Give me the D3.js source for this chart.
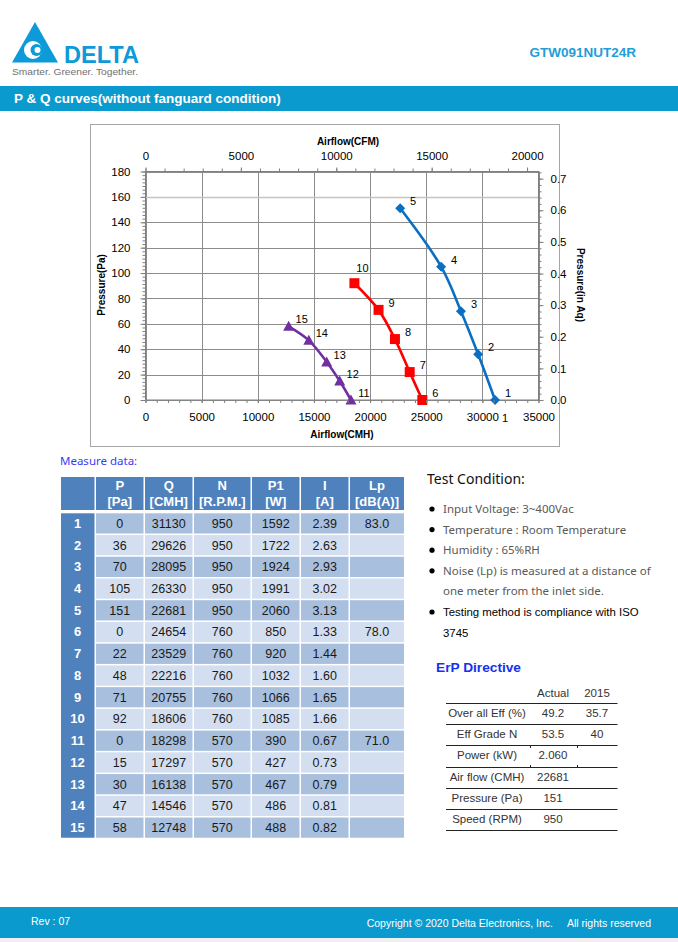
<!DOCTYPE html>
<html><head><meta charset="utf-8">
<script src="https://cdn.jsdelivr.net/npm/d3@7"></script>
<style>
html,body{margin:0;padding:0;background:#fff;}
svg{display:block;}
</style></head>
<body>
<script>
// ---------------- DATA ----------------
const pointNo = [1,2,3,4,5,6,7,8,9,10,11,12,13,14,15];
const pressurePa = [0,36,70,105,151,0,22,48,71,92,0,15,30,47,58];
const airflowCMH = [31130,29626,28095,26330,22681,24654,23529,22216,20755,18606,18298,17297,16138,14546,12748];
const speedRPM = [950,950,950,950,950,760,760,760,760,760,570,570,570,570,570];
const powerW = [1592,1722,1924,1991,2060,850,920,1032,1066,1085,390,427,467,486,488];
const currentA = ["2.39","2.63","2.93","3.02","3.13","1.33","1.44","1.60","1.65","1.66","0.67","0.73","0.79","0.81","0.82"];
const noiseLp = ["83.0","","","","","78.0","","","","","71.0","","","",""];
const seriesSpeeds = [950,760,570];
const xTicksCMH = [0,5000,10000,15000,20000,25000,30000,35000];
const xTicksCFM = [0,5000,10000,15000,20000];
const yTicksPa = [0,20,40,60,80,100,120,140,160,180];
const yTicksInAq = [0,0.1,0.2,0.3,0.4,0.5,0.6,0.7];
const tableHeads = [["P","[Pa]"],["Q","[CMH]"],["N","[R.P.M.]"],["P1","[W]"],["I","[A]"],["Lp","[dB(A)]"]];
const testConditions = [
  ["Input Voltage: 3~400Vac"],
  ["Temperature : Room Temperature"],
  ["Humidity : 65%RH"],
  ["Noise (Lp) is measured at a distance of","one meter from the inlet side."],
  ["Testing method is compliance with ISO","3745"]
];
const erpHead = ["Actual","2015"];
const erpLabels = ["Over all Eff (%)","Eff Grade N","Power (kW)","Air flow (CMH)","Pressure (Pa)","Speed (RPM)"];
const erpActual = ["49.2","53.5","2.060","22681","151","950"];
const erp2015 = ["35.7","40","","","",""];

// ---------------- SETUP ----------------
const W = 678, H = 942;
const BLUE = "#0b9ace";
const svg = d3.select("body").append("svg").attr("width", W).attr("height", H);
const AR = "'Liberation Sans', Arial, sans-serif";
const NS = "'Noto Sans', 'Open Sans', sans-serif";

// ---------------- HEADER ----------------
const logo = svg.append("g");
logo.append("path").attr("d","M35,22 L58,62.5 L12,62.5 Z").attr("fill","#0d9ad8");
logo.append("circle").attr("cx",33).attr("cy",50).attr("r",9).attr("fill","#fff");
logo.append("circle").attr("cx",36.5).attr("cy",50).attr("r",6).attr("fill","#0d9ad8");
logo.append("circle").attr("cx",37.5).attr("cy",50).attr("r",3).attr("fill","#fff");
logo.append("text").attr("x",64).attr("y",62.5).attr("font-family",AR).attr("font-weight","bold")
  .attr("font-size",24).attr("fill","#0d9ad8").attr("textLength",75).attr("lengthAdjust","spacingAndGlyphs").text("DELTA");
logo.append("text").attr("x",12).attr("y",75).attr("font-family",AR).attr("font-size",9.5)
  .attr("fill","#707070").attr("textLength",126).attr("lengthAdjust","spacingAndGlyphs").text("Smarter.  Greener.  Together.");
svg.append("text").attr("x",636).attr("y",57).attr("text-anchor","end").attr("font-family",AR)
  .attr("font-weight","bold").attr("font-size",13.5).attr("fill","#1f9ed8").text("GTW091NUT24R");
svg.append("rect").attr("x",0).attr("y",86).attr("width",W).attr("height",25).attr("fill",BLUE);
svg.append("text").attr("x",14).attr("y",103).attr("font-family",AR).attr("font-weight","bold")
  .attr("font-size",13.5).attr("fill","#fff").text("P & Q curves(without fanguard condition)");

// ---------------- CHART ----------------
svg.append("rect").attr("x",90.5).attr("y",124.5).attr("width",469).attr("height",322)
  .attr("fill","#fff").attr("stroke","#a6a6a6").attr("stroke-width",1);

const x = d3.scaleLinear().domain([0,35000]).range([145.5,538.5]);
const y = d3.scaleLinear().domain([0,180]).range([400,171.5]);
const xCFM = d3.scaleLinear().domain([0,35000/1.699]).range([145.5,538.5]);
const yAq = d3.scaleLinear().domain([0,180/249.09]).range([400,171.5]);
const plot = svg.append("g");
const GRID = "#8c8c8c";

// gridlines
plot.selectAll(".vg").data(xTicksCMH).join("line")
  .attr("x1",d=>Math.round(x(d))+0.5).attr("x2",d=>Math.round(x(d))+0.5)
  .attr("y1",y(180)).attr("y2",y(0)).attr("stroke",GRID).attr("stroke-width",1);
plot.selectAll(".hg").data(yTicksPa).join("line")
  .attr("x1",x(0)).attr("x2",x(35000))
  .attr("y1",d=>Math.round(y(d))+0.5).attr("y2",d=>Math.round(y(d))+0.5)
  .attr("stroke",d=>d===160?"#c4c4c4":GRID).attr("stroke-width",d=>d===160?1.6:1);
plot.append("rect").attr("x",x(0)).attr("y",y(180)).attr("width",x(35000)-x(0)).attr("height",y(0)-y(180))
  .attr("fill","none").attr("stroke","#7f7f7f").attr("stroke-width",1);

const tickFont = 11.5;
// bottom axis
const axB = svg.append("g").attr("transform",`translate(0,${y(0)})`)
  .call(d3.axisBottom(x).tickValues(d3.range(0,35001,1000)).tickSize(3).tickFormat(""));
const axB2 = svg.append("g").attr("transform",`translate(0,${y(0)})`)
  .call(d3.axisBottom(x).tickValues(xTicksCMH).tickSize(3).tickPadding(10).tickFormat(d3.format("d")));
// top axis
const axT = svg.append("g").attr("transform",`translate(0,${y(180)})`)
  .call(d3.axisTop(xCFM).tickValues(d3.range(0,20001,1000)).tickSize(3).tickFormat(""));
const axT2 = svg.append("g").attr("transform",`translate(0,${y(180)})`)
  .call(d3.axisTop(xCFM).tickValues(xTicksCFM).tickSize(4).tickPadding(8).tickFormat(d3.format("d")));
// left axis
const axL = svg.append("g").attr("transform",`translate(${x(0)},0)`)
  .call(d3.axisLeft(y).tickValues(d3.range(0,180.01,20/7)).tickSize(3).tickFormat(""));
const axL2 = svg.append("g").attr("transform",`translate(${x(0)},0)`)
  .call(d3.axisLeft(y).tickValues(yTicksPa).tickSize(5).tickPadding(10).tickFormat(d3.format("d")));
// right axis
const axR = svg.append("g").attr("transform",`translate(${x(35000)},0)`)
  .call(d3.axisRight(yAq).tickValues(d3.range(0,0.7201,0.02)).tickSize(3).tickFormat(""));
const axR2 = svg.append("g").attr("transform",`translate(${x(35000)},0)`)
  .call(d3.axisRight(yAq).tickValues(yTicksInAq).tickSize(5).tickPadding(7).tickFormat(d3.format(".1f")));
[axB,axB2,axT,axT2,axL,axL2,axR,axR2].forEach(g=>{
  g.select(".domain").remove();
  g.selectAll(".tick line").attr("stroke","#7f7f7f");
  g.selectAll(".tick text").attr("font-family",AR).attr("font-size",tickFont).attr("fill","#000");
});

// axis titles
const tt = (tx,ty,txt,rot)=>svg.append("text").attr("transform",`translate(${tx},${ty}) rotate(${rot||0})`)
  .attr("text-anchor","middle").attr("font-family",AR).attr("font-weight","bold").attr("font-size",10).text(txt);
tt(348,145,"Airflow(CFM)");
tt(342,438,"Airflow(CMH)");
tt(105,285,"Pressure(Pa)",-90);
tt(577,285,"Pressure(in Aq)",90);

// series
const seriesColors = ["#0a6fc2","#ff0000","#7030a0"];
const pts = pointNo.map((n,i)=>({n, q:airflowCMH[i], p:pressurePa[i], s:seriesSpeeds.indexOf(speedRPM[i])}));
const line = d3.line().x(d=>x(d.q)).y(d=>y(d.p)).curve(d3.curveCatmullRom.alpha(0.5));
seriesSpeeds.forEach((sp,si)=>{
  const d = pts.filter(p=>p.s===si);
  plot.append("path").datum(d).attr("d",line).attr("fill","none")
    .attr("stroke",seriesColors[si]).attr("stroke-width",2.6);
});
const markerPath = (s)=> s===0 ? "M0,-5L5,0L0,5L-5,0Z" : s===1 ? "M-5,-5H5V5H-5Z" : "M0,-5.5L5.5,4.5H-5.5Z";
plot.selectAll(".mk").data(pts).join("path")
  .attr("transform",d=>`translate(${x(d.q)},${y(d.p)})`)
  .attr("d",d=>markerPath(d.s)).attr("fill",d=>seriesColors[d.s]);
plot.selectAll(".lb").data(pts).join("text")
  .attr("x",d=>x(d.q)+(d.n===10?8:13)).attr("y",d=>y(d.p)+(d.n===10?-11:-3))
  .attr("text-anchor","middle").attr("font-family",AR).attr("font-size",11).attr("fill","#000")
  .text(d=>d.n);
// stray label below axis under point 1
svg.append("text").attr("x",x(airflowCMH[0])+10).attr("y",422).attr("text-anchor","middle")
  .attr("font-family",AR).attr("font-size",11).text(pointNo[0]);

// ---------------- MEASURE TABLE ----------------
svg.append("text").attr("x",60).attr("y",465).attr("font-family",NS).attr("font-size",11.5)
  .attr("fill","#3b3bf5").text("Measure data:");
const colEdges = [[61,94.5],[96,143.5],[145,192.5],[194,250.5],[252,299.5],[301,348.5],[350,404]];
const tbl = svg.append("g");
const HDR = "#4f81bd";
colEdges.forEach((c,i)=>{
  tbl.append("rect").attr("x",c[0]).attr("y",477).attr("width",c[1]-c[0]).attr("height",33).attr("fill",HDR);
  if(i>0){
    tableHeads[i-1].forEach((t,k)=>{
      tbl.append("text").attr("x",(c[0]+c[1])/2).attr("y",490+k*15.5).attr("text-anchor","middle")
        .attr("font-family",AR).attr("font-weight","bold").attr("font-size",13).attr("fill","#fff").text(t);
    });
  }
});
const rowTop = 513.3, rowPitch = 21.73;
tbl.append("rect").attr("x",61).attr("y",rowTop).attr("width",33.5).attr("height",rowPitch*15-1.5).attr("fill",HDR);
const cols = [pressurePa, airflowCMH, speedRPM, powerW, currentA, noiseLp];
pointNo.forEach((n,r)=>{
  const ry = rowTop + r*rowPitch;
  tbl.append("text").attr("x",77.5).attr("y",ry+14.5).attr("text-anchor","middle").attr("font-family",AR)
    .attr("font-weight","bold").attr("font-size",13).attr("fill","#fff").text(n);
  cols.forEach((col,ci)=>{
    const c = colEdges[ci+1];
    tbl.append("rect").attr("x",c[0]).attr("y",ry).attr("width",c[1]-c[0]).attr("height",rowPitch-1.5)
      .attr("fill", r%2===0 ? "#a8bfde" : "#d3dff0");
    tbl.append("text").attr("x",(c[0]+c[1])/2).attr("y",ry+14.5).attr("text-anchor","middle")
      .attr("font-family",AR).attr("font-size",12.5).attr("fill","#1a1a1a").text(col[r]);
  });
});

// ---------------- TEST CONDITION ----------------
svg.append("text").attr("x",427).attr("y",484).attr("font-family",NS).attr("font-size",14)
  .attr("fill","#111").text("Test Condition:");
let ly = 513;
testConditions.forEach((item,i)=>{
  svg.append("circle").attr("cx",432).attr("cy",ly-4).attr("r",2.6).attr("fill","#000");
  item.forEach((t,k)=>{
    const last = i===testConditions.length-1;
    svg.append("text").attr("x",443).attr("y",ly).attr("font-family",last?AR:NS)
      .attr("font-size",last?11.4:11.5).attr("fill",last?"#000":"#595959").text(t);
    ly += 20.6;
  });
});

// ---------------- ErP ----------------
svg.append("text").attr("x",436).attr("y",672).attr("font-family",AR).attr("font-weight","bold")
  .attr("font-size",13.7).attr("fill","#1432ee").text("ErP Directive");
const erpCx = [487,553,597];
erpHead.forEach((t,i)=>svg.append("text").attr("x",erpCx[i+1]).attr("y",697).attr("text-anchor","middle")
  .attr("font-family",AR).attr("font-size",11.5).attr("fill","#333").text(t));
const erpLines = [703.5,724.5,745.5,767.5,788.5,809.5,830.5];
erpLines.forEach(ly2=>svg.append("line").attr("x1",446).attr("x2",617.5).attr("y1",ly2).attr("y2",ly2)
  .attr("stroke","#222").attr("stroke-width",1));
[530.5,577.5].forEach(vx=>{
  svg.append("line").attr("x1",vx).attr("x2",vx).attr("y1",745.5).attr("y2",748).attr("stroke","#222");
  svg.append("line").attr("x1",vx).attr("x2",vx).attr("y1",765).attr("y2",767.5).attr("stroke","#222");
});
erpLabels.forEach((t,i)=>{
  const by = erpLines[i]+13.5;
  [t, erpActual[i], erp2015[i]].forEach((v,k)=>svg.append("text").attr("x",erpCx[k]).attr("y",by)
    .attr("text-anchor","middle").attr("font-family",AR).attr("font-size",11.5).attr("fill","#333").text(v));
});

// ---------------- FOOTER ----------------
svg.append("rect").attr("x",0).attr("y",907).attr("width",W).attr("height",31).attr("fill",BLUE);
svg.append("rect").attr("x",0).attr("y",938).attr("width",W).attr("height",4).attr("fill","#efefef");
svg.append("text").attr("x",31).attr("y",925).attr("font-family",AR).attr("font-size",10.5)
  .attr("fill","#fff").text("Rev : 07");
svg.append("text").attr("x",651).attr("y",927).attr("text-anchor","end").attr("font-family",AR).attr("font-size",10.5)
  .attr("fill","#fff").attr("xml:space","preserve").text("Copyright © 2020 Delta Electronics, Inc.     All rights reserved");
</script>
</body></html>
